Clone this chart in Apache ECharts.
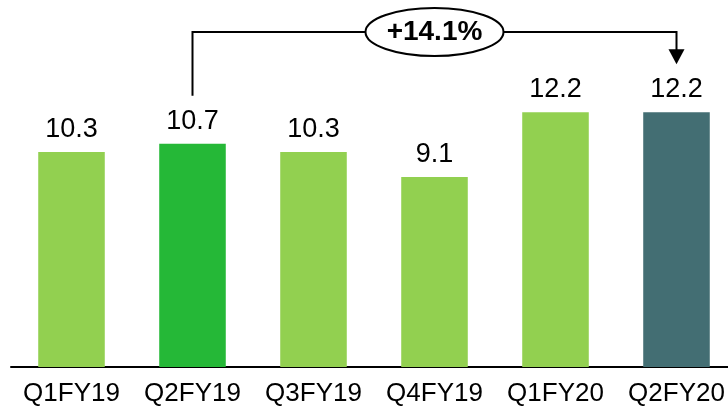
<!DOCTYPE html>
<html>
<head>
<meta charset="utf-8">
<script src="https://cdn.jsdelivr.net/npm/echarts@6/dist/echarts.min.js"></script>
<style>
  html, body { margin: 0; padding: 0; background: #fff; overflow: hidden; }
  #main { width: 737px; height: 415px; }
</style>
</head>
<body>
<div id="main"></div>
<script>
let quarters = ['Q1FY19', 'Q2FY19', 'Q3FY19', 'Q4FY19', 'Q1FY20', 'Q2FY20'];
let values = [10.3, 10.7, 10.3, 9.1, 12.2, 12.2];
let barColors = ['#92D050', '#25B837', '#92D050', '#92D050', '#92D050', '#436E73'];
let growthText = '+14.1%';

let chartDom = document.getElementById('main');
let myChart = echarts.init(chartDom);
let option;

let fontFam = '"Liberation Sans", Arial, sans-serif';

option = {
  animation: false,
  grid: {
    left: 11,
    right: 0,
    top: 33,
    bottom: 48
  },
  xAxis: {
    type: 'category',
    data: quarters,
    axisLine: { lineStyle: { color: '#000', width: 2 } },
    axisTick: { show: false },
    axisLabel: {
      interval: 0,
      hideOverlap: false,
      color: '#000',
      fontSize: 26,
      fontFamily: fontFam,
      margin: 14
    }
  },
  yAxis: {
    type: 'value',
    min: 0,
    max: 16,
    show: false,
    splitLine: { show: false }
  },
  series: [
    {
      type: 'bar',
      barWidth: '55%',
      data: values.map(function (v, i) {
        return { value: v, itemStyle: { color: barColors[i] } };
      }),
      label: {
        show: true,
        position: 'top',
        distance: 9,
        color: '#000',
        fontSize: 27,
        fontFamily: fontFam,
        formatter: function (p) { return p.value.toFixed(1); }
      }
    }
  ]
};

myChart.setOption(option);

// bracket arrow from Q2FY19 to Q2FY20
let from = myChart.convertToPixel({ seriesIndex: 0 }, [quarters[1], values[1]]);
let to = myChart.convertToPixel({ seriesIndex: 0 }, [quarters[5], values[5]]);
let topY = myChart.convertToPixel({ yAxisIndex: 0 }, 16) - 1;
let startY = from[1] - 48;
let tipY = to[1] - 48;
let midX = (from[0] + to[0]) / 2;

myChart.setOption({
  graphic: [
    {
      type: 'polyline',
      shape: { points: [[from[0], startY], [from[0], topY], [to[0], topY], [to[0], tipY - 14]] },
      style: { stroke: '#000', lineWidth: 2, fill: null }
    },
    {
      type: 'polygon',
      shape: { points: [[to[0] - 8, tipY - 15], [to[0] + 8, tipY - 15], [to[0], tipY]] },
      style: { fill: '#000' }
    },
    {
      type: 'ellipse',
      shape: { cx: midX, cy: topY, rx: 69, ry: 24 },
      style: { fill: '#fff', stroke: '#000', lineWidth: 2 }
    },
    {
      type: 'text',
      x: midX,
      y: topY,
      style: {
        text: growthText,
        fill: '#000',
        font: 'bold 28px ' + fontFam,
        align: 'center',
        verticalAlign: 'middle'
      }
    }
  ]
});
</script>
</body>
</html>
